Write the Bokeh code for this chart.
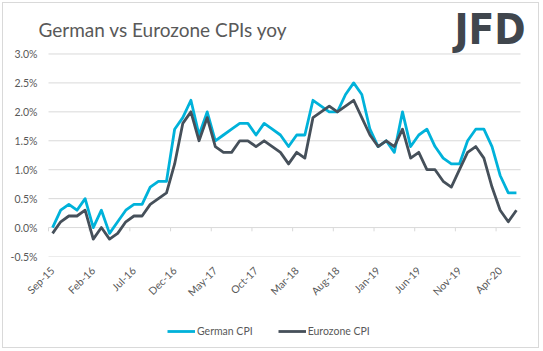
from bokeh.plotting import figure
from bokeh.layouts import column
from bokeh.models import (FixedTicker, PrintfTickFormatter, Label, Legend, LegendItem,
                          ColumnDataSource)
from bokeh.embed import file_html
from bokeh.resources import INLINE
import math

# ---- data ----
tick_labels = ["Sep-15", "Feb-16", "Jul-16", "Dec-16", "May-17", "Oct-17",
               "Mar-18", "Aug-18", "Jan-19", "Jun-19", "Nov-19", "Apr-20"]
tick_index = [0, 5, 10, 15, 20, 25, 30, 35, 40, 45, 50, 55]

german_cpi = [0.0, 0.3, 0.4, 0.3,
              0.5, 0.0, 0.3, -0.1, 0.1, 0.3, 0.4, 0.4, 0.7, 0.8, 0.8, 1.7,
              1.9, 2.2, 1.6, 2.0, 1.5, 1.6, 1.7, 1.8, 1.8, 1.6, 1.8, 1.7,
              1.6, 1.4, 1.6, 1.6, 2.2, 2.1, 2.0, 2.0, 2.3, 2.5, 2.3, 1.7,
              1.4, 1.5, 1.3, 2.0, 1.4, 1.6, 1.7, 1.4, 1.2, 1.1, 1.1, 1.5,
              1.7, 1.7, 1.4, 0.9, 0.6, 0.6]
eurozone_cpi = [-0.1, 0.1, 0.2, 0.2,
                0.3, -0.2, 0.0, -0.2, -0.1, 0.1, 0.2, 0.2, 0.4, 0.5, 0.6, 1.1,
                1.8, 2.0, 1.5, 1.9, 1.4, 1.3, 1.3, 1.5, 1.5, 1.4, 1.5, 1.4,
                1.3, 1.1, 1.3, 1.2, 1.9, 2.0, 2.1, 2.0, 2.1, 2.2, 1.9, 1.6,
                1.4, 1.5, 1.4, 1.7, 1.2, 1.3, 1.0, 1.0, 0.8, 0.7, 1.0, 1.3,
                1.4, 1.2, 0.7, 0.3, 0.1, 0.3]
y_ticks = [-0.5, 0.0, 0.5, 1.0, 1.5, 2.0, 2.5, 3.0]
series_names = ["German CPI", "Eurozone CPI"]

n = len(german_cpi)
x = list(range(n))

TEXT = "#595959"
GRID = "#d9d9d9"
FONT = "Lato"
C_GER = "#00B2DA"
C_EZ = "#46505A"

# layout (pixels)
W = 543
MAIN_H, LEG_H = 305, 46
F_LEFT, F_RIGHT, F_TOP, F_BOTTOM = 38, 537, 2, 262
PLOT_LEFT, PLOT_RIGHT = 48, 520   # category area
PLOT_TOP = 54.7                   # pixel row of the top gridline
px_per_cat = (PLOT_RIGHT - PLOT_LEFT) / n
px_per_unit = (F_BOTTOM - PLOT_TOP) / (y_ticks[-1] - y_ticks[0])

x_start = -0.5 - (PLOT_LEFT - F_LEFT) / px_per_cat
x_end = n - 0.5 + (F_RIGHT - PLOT_RIGHT) / px_per_cat
y_end = y_ticks[-1] + (PLOT_TOP - F_TOP) / px_per_unit

p = figure(width=W, height=MAIN_H, output_backend="svg", toolbar_location=None,
           x_range=(x_start, x_end), y_range=(y_ticks[0], y_end),
           min_border_left=F_LEFT, min_border_right=W - F_RIGHT,
           min_border_top=F_TOP, min_border_bottom=MAIN_H - F_BOTTOM)
p.outline_line_color = None
p.background_fill_color = "white"
p.border_fill_color = "white"

# axes
p.xaxis.ticker = FixedTicker(ticks=tick_index)
p.xaxis.major_label_overrides = {i: l for i, l in zip(tick_index, tick_labels)}
p.xaxis.major_label_orientation = math.pi / 4
p.xaxis.axis_line_color = None
p.xaxis.major_tick_line_color = None
p.xaxis.minor_tick_line_color = None
p.xaxis.major_label_standoff = 6
p.xaxis.major_label_text_font = FONT
p.xaxis.major_label_text_font_size = "10.5px"
p.xaxis.major_label_text_color = TEXT

p.yaxis.ticker = FixedTicker(ticks=y_ticks)
p.yaxis.formatter = PrintfTickFormatter(format="%.1f%%")
p.yaxis.axis_line_color = None
p.yaxis.major_tick_line_color = None
p.yaxis.minor_tick_line_color = None
p.yaxis.major_label_standoff = -5
p.yaxis.major_label_text_font = FONT
p.yaxis.major_label_text_font_size = "10.5px"
p.yaxis.major_label_text_color = TEXT

p.xgrid.grid_line_color = None
p.ygrid.grid_line_color = None

# horizontal gridlines across the category area only
p.segment(x0=[-0.5] * len(y_ticks), y0=y_ticks, x1=[n - 0.5] * len(y_ticks), y1=y_ticks,
          line_color=GRID, line_width=1)

# category tick marks on the zero line
tick_x = [t - 0.5 for t in tick_index]
p.segment(x0=tick_x, y0=[0] * len(tick_x), x1=tick_x, y1=[-0.065] * len(tick_x),
          line_color=GRID, line_width=1)

src = ColumnDataSource(dict(x=x, g=german_cpi, e=eurozone_cpi))
p.line("x", "g", source=src, line_color=C_GER, line_width=2.8, line_join="round")
p.line("x", "e", source=src, line_color=C_EZ, line_width=2.8, line_join="round")

# title and logo (screen units, relative to frame bottom-left)
frame_h = F_BOTTOM - F_TOP
p.add_layout(Label(x=0, y=frame_h - (35 - F_TOP), x_units="screen", y_units="screen",
                   text="German vs Eurozone CPIs yoy", text_font=FONT,
                   text_font_size="19px", text_color=TEXT, text_baseline="alphabetic"))
p.add_layout(Label(x=454 - F_LEFT, y=frame_h - (35 - F_TOP), x_units="screen", y_units="screen",
                   text="JFD", text_font="DejaVu Sans Condensed", text_font_style="bold",
                   text_font_size="42px", text_color="#40464d", text_baseline="alphabetic"))

# ---- legend strip ----
pl = figure(width=W, height=LEG_H, output_backend="svg", toolbar_location=None,
            x_range=(0, 1), y_range=(0, 1), x_axis_type=None, y_axis_type=None,
            min_border_left=0, min_border_right=0, min_border_top=0, min_border_bottom=0)
pl.outline_line_color = None
pl.xgrid.visible = False
pl.ygrid.visible = False
# legend swatches (kept outside the strip's visible range)
lg = pl.line(x=[2, 3], y=[2, 3], line_color=C_GER, line_width=2.8)
le = pl.line(x=[2, 3], y=[2, 3], line_color=C_EZ, line_width=2.8)
legend = Legend(items=[LegendItem(label=series_names[0], renderers=[lg]),
                       LegendItem(label=series_names[1], renderers=[le])],
                orientation="horizontal", location=(167 - F_LEFT, 13),
                glyph_width=28, glyph_height=14, label_standoff=2, spacing=25,
                padding=0, margin=0, border_line_color=None, background_fill_alpha=0,
                label_text_font=FONT, label_text_font_size="10.5px", label_text_color=TEXT)
pl.add_layout(legend, "center")

layout = column(p, pl, spacing=0)

html = file_html(layout, INLINE)
# thin chart-area border drawn over the page
border = ('<div style="position:fixed;left:2px;top:2px;width:535px;height:344px;'
          'border:1px solid #d9d9d9;pointer-events:none;z-index:10"></div>')
html = html.replace("</body>", border + "</body>")
open("out.html", "w").write(html)
